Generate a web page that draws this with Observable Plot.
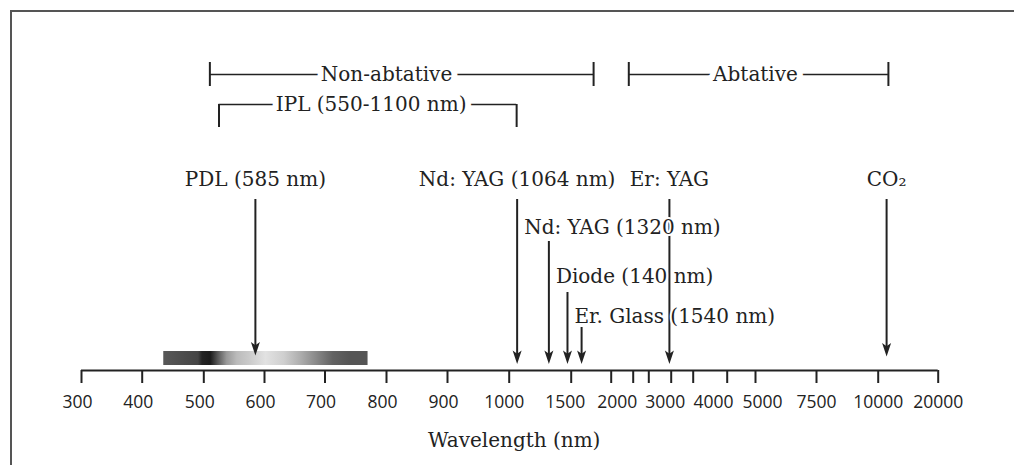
<!DOCTYPE html>
<html>
<head>
<meta charset="utf-8">
<script src="https://cdn.jsdelivr.net/npm/d3@7"></script>
<script src="https://cdn.jsdelivr.net/npm/@observablehq/plot@0.6"></script>
<style>
html, body { margin: 0; padding: 0; background: #fff; }
#wrap { position: relative; width: 1014px; height: 465px; overflow: hidden; }
#frame { position: absolute; left: 10px; top: 10px; right: -4px; bottom: -4px;
  border-top: 2px solid #555; border-left: 2px solid #555; pointer-events: none; }
</style>
</head>
<body>
<div id="wrap"><div id="chart"></div><div id="frame"></div></div>
<script>
// ---------- DATA ----------
// Wavelength axis (nm): tick marks and tick labels
const tickMarks = [300, 400, 500, 600, 700, 800, 900, 1000, 1500, 2000, 2500, 2750, 3000, 3500, 4500, 5000, 7500, 10000, 20000];
const tickLabels = [300, 400, 500, 600, 700, 800, 900, 1000, 1500, 2000, 3000, 4000, 5000, 7500, 10000, 20000];

// Lasers with a label on the top row (arrow wavelength in nm)
const topLasers = ["PDL (585 nm)", "Nd: YAG (1064 nm)", "Er: YAG", "CO\u2082"];
const topLaserNm = [585, 1064, 2980, 11400];

// Lasers with stacked labels (arrow wavelength; label starts right of the previous arrow)
const stackLasers = ["Nd: YAG (1320 nm)", "Diode (140 nm)", "Er. Glass (1540 nm)"];
const stackLaserNm = [1320, 1470, 1630];
const stackLabelNm = [1064, 1320, 1470];

// Ranges (brackets), nm
const rangeNames = ["Non-abtative", "Abtative", "IPL (550-1100 nm)"];
const rangeFrom = [510, 2400, 525];
const rangeTo = [1780, 11700, 1060];
const rangeLabelNm = [800, 5000, 775];

// Visible-light band drawn as grey gradient, nm
const bandFrom = 435, bandTo = 770;
const bandStops = [
  [0, "#585858"], [0.17, "#444"], [0.19, "#232323"], [0.23, "#1b1b1b"], [0.265, "#555"],
  [0.31, "#999"], [0.36, "#bbb"], [0.42, "#cacaca"], [0.5, "#e2e2e2"], [0.59, "#cfcfcf"],
  [0.67, "#aeaeae"], [0.75, "#888"], [0.83, "#626262"], [0.91, "#555"], [1, "#555"]
];

// ---------- LAYOUT (scale config; y is height above the axis line) ----------
const xBreaks = [300, 400, 500, 600, 700, 800, 900, 1000, 1500, 2000, 2500, 2750, 3000, 3500, 4000, 4500, 5000, 7500, 10000, 20000];
const xRange  = [81, 141.7, 203.3, 264, 324.5, 386, 447, 508.7, 570.7, 610.7, 632.7, 648.3, 670.7, 692.7, 713, 726.7, 755, 816, 877.7, 937.7];
const labelNudge = {300: -4, 400: -4, 500: -4, 600: -4, 700: -4, 800: -4, 900: -4, 1000: -5, 1500: -6, 2000: 6, 3000: -6, 5000: 7};
const topLabelH = 191, topStartH = 171;
const topTipH = [15, 6.5, 6.5, 14];
const stackLabelH = [143, 94, 54];
const stackStartH = [129, 78, 43];
const rangeH = [296, 296, 266];

const ink = "#222";
const serif = "DejaVu Serif";
const serifSize = 20;

const arrows = [
  ...topLaserNm.map((nm, i) => ({nm, start: topStartH, tip: topTipH[i]})),
  ...stackLaserNm.map((nm, i) => ({nm, start: stackStartH[i], tip: 6.5}))
];
const ranges = rangeNames.map((name, i) => ({name, from: rangeFrom[i], to: rangeTo[i], at: rangeLabelNm[i], h: rangeH[i], ipl: i === 2}));
const caps = ranges.flatMap(r => [r.from, r.to].map(x => ({x, y1: r.ipl ? r.h - 23 : r.h - 12, y2: r.ipl ? r.h : r.h + 12})));

const arrowHead = {
  draw(context, size) {
    const r = Math.sqrt(size / Math.PI);
    context.moveTo(0, 0);
    context.lineTo(-r * 0.9, -r * 2.7);
    context.lineTo(0, -r * 2.05);
    context.lineTo(r * 0.9, -r * 2.7);
    context.closePath();
  }
};

// one text mark per nudge group for the tick labels
const nudges = [...new Set(tickLabels.map(v => labelNudge[v] || 0))];
const tickLabelMarks = nudges.map(n => Plot.text(tickLabels, {
  filter: v => (labelNudge[v] || 0) === n,
  x: d => d, y: -32, dx: n, text: d => String(d),
  fontFamily: "Open Sans", fontSize: 17.5, fill: ink
}));

const chart = Plot.plot({
  width: 1014,
  height: 465,
  margin: 0,
  x: {type: "linear", domain: xBreaks, range: xRange, axis: null},
  y: {type: "linear", domain: [-95, 360], range: [465, 10], axis: null},
  marks: [
    // spectrum band
    Plot.rect([{x1: bandFrom, x2: bandTo}], {x1: "x1", x2: "x2", y1: 5, y2: 19, fill: "url(#spectrumGradient)"}),
    // axis line and ticks
    Plot.ruleY([0], {x1: tickMarks[0], x2: tickMarks[tickMarks.length - 1], stroke: ink, strokeWidth: 2}),
    Plot.ruleX(tickMarks, {x: d => d, y1: 0, y2: -13, stroke: ink, strokeWidth: 2}),
    ...tickLabelMarks,
    Plot.text(["Wavelength (nm)"], {x: 1040, y: -70, text: d => d, fontFamily: serif, fontSize: serifSize, fill: ink}),
    // range brackets
    Plot.ruleY(ranges, {x1: "from", x2: "to", y: "h", stroke: ink, strokeWidth: 1.5}),
    Plot.ruleX(caps, {x: "x", y1: "y1", y2: "y2", stroke: ink, strokeWidth: 2}),
    Plot.text(ranges, {x: "at", y: "h", text: "name", fontFamily: serif, fontSize: serifSize, fill: ink,
      stroke: "white", strokeWidth: 12, paintOrder: "stroke"}),
    // arrows
    Plot.ruleX(arrows, {x: "nm", y1: "start", y2: d => d.tip + 8, stroke: ink, strokeWidth: 2}),
    Plot.dot(arrows, {x: "nm", y: "tip", symbol: arrowHead, r: 5, fill: ink, stroke: "none"}),
    // laser labels
    Plot.text(topLasers, {x: (d, i) => topLaserNm[i], y: topLabelH, text: d => d, fontFamily: serif, fontSize: serifSize, fill: ink}),
    Plot.text(stackLasers, {x: (d, i) => stackLabelNm[i], y: (d, i) => stackLabelH[i], dx: 7, text: d => d,
      textAnchor: "start", fontFamily: serif, fontSize: serifSize, fill: ink, stroke: "white", strokeWidth: 4, paintOrder: "stroke"})
  ]
});

// gradient definition for the spectrum band
const defs = d3.select(chart).insert("defs", ":first-child");
const grad = defs.append("linearGradient").attr("id", "spectrumGradient").attr("x1", "0%").attr("x2", "100%").attr("y1", "0%").attr("y2", "0%");
bandStops.forEach(([o, c]) => grad.append("stop").attr("offset", o).attr("stop-color", c));

document.getElementById("chart").appendChild(chart);
</script>
</body>
</html>
